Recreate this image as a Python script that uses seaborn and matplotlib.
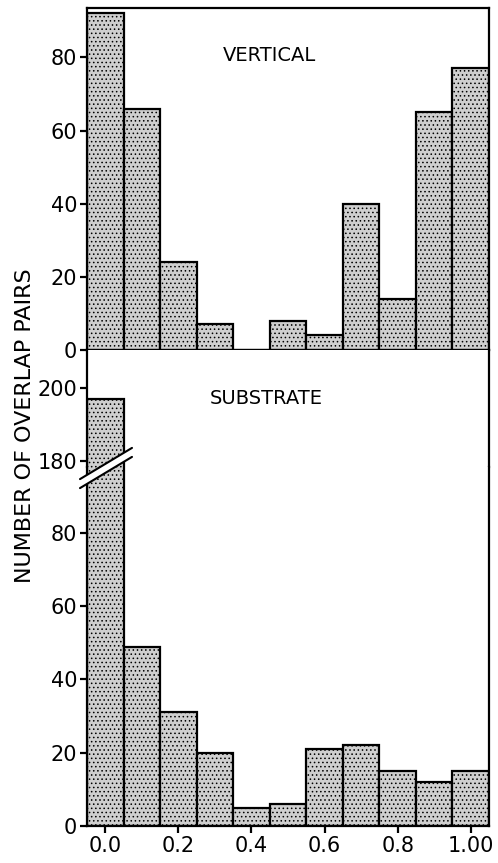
import numpy as np
import pandas as pd
import matplotlib
matplotlib.use("Agg")
import matplotlib.pyplot as plt
from matplotlib.lines import Line2D
from matplotlib.patches import Polygon
import seaborn as sns

# Datos (centros de clase de 0.0 a 1.0, paso 0.1)
overlap = [0.0, 0.1, 0.2, 0.3, 0.4, 0.5, 0.6, 0.7, 0.8, 0.9, 1.0]
vertical = [92, 66, 24, 7, 0, 8, 4, 40, 14, 65, 77]
substrate = [197, 49, 31, 20, 5, 6, 21, 22, 15, 12, 15]

x_ticks = [0.0, 0.2, 0.4, 0.6, 0.8, 1.0]
x_ticklabels = ["0.0", "0.2", "0.4", "0.6", "0.8", "1.00"]
y_ticks_low = [0, 20, 40, 60, 80]
y_ticks_high = [180, 200]

BAR_FILL = "#cfcfcf"
LW = 1.6

sns.set_style("ticks")
plt.rcParams["font.family"] = ["DejaVu Sans"]
plt.rcParams["font.size"] = 15
plt.rcParams["text.color"] = "black"
plt.rcParams["xtick.color"] = "black"
plt.rcParams["ytick.color"] = "black"
plt.rcParams["axes.edgecolor"] = "black"
plt.rcParams["hatch.linewidth"] = 0.6
plt.rcParams["hatch.color"] = "#555555"

df = pd.DataFrame({"overlap": overlap, "vertical": vertical, "substrate": substrate})
edges = [round(e, 2) for e in np.arange(-0.05, 1.06, 0.1)]

fig = plt.figure(figsize=(4.98, 8.63), dpi=100)
W, H = 498.0, 863.0
left, right = 87 / W, 489 / W
width = right - left

ax_top = fig.add_axes([left, 1 - 350 / H, width, (350 - 8) / H])
ax_hi = fig.add_axes([left, 1 - 467 / H, width, (467 - 350) / H])
ax_lo = fig.add_axes([left, 1 - 826 / H, width, (826 - 467) / H])


def draw_hist(ax, col):
    sns.histplot(data=df, x="overlap", weights=col, bins=edges, ax=ax,
                 color=BAR_FILL, edgecolor="black", linewidth=LW, alpha=1)
    for p in ax.patches:
        p.set_hatch("....")
    ax.set_xlim(-0.05, 1.05)
    ax.set_xlabel("")
    ax.set_ylabel("")
    for s in ax.spines.values():
        s.set_linewidth(LW)
    ax.tick_params(axis="both", direction="out", length=5, width=LW,
                   labelsize=15, pad=2)


# --- Panel superior: VERTICAL ---
draw_hist(ax_top, "vertical")
ax_top.set_ylim(0, 93.5)
ax_top.set_yticks(y_ticks_low)
ax_top.set_xticks([])
ax_top.text(0.45, 80.5, "VERTICAL", ha="center", va="center", fontsize=14)

# --- Panel inferior (eje cortado): SUBSTRATE ---
draw_hist(ax_hi, "substrate")
ax_hi.set_ylim(178.4, 210.4)
ax_hi.set_yticks(y_ticks_high)
ax_hi.set_xticks([])
ax_hi.spines["top"].set_visible(False)
ax_hi.spines["bottom"].set_visible(False)
ax_hi.text(0.44, 197, "SUBSTRATE", ha="center", va="center", fontsize=14)

draw_hist(ax_lo, "substrate")
ax_lo.set_ylim(0, 98)
ax_lo.set_yticks(y_ticks_low)
ax_lo.set_xticks(x_ticks)
ax_lo.set_xticklabels(x_ticklabels)
ax_lo.spines["top"].set_visible(False)

# Marca de corte del eje
cx, cy = 106 / W, 1 - 468 / H
dx, dy = 26 / W, 15.6 / H
off = 4.5 / H
band = Polygon([(cx - dx, cy - dy - off), (cx + dx, cy + dy - off),
                (cx + dx, cy + dy + off), (cx - dx, cy - dy + off)],
               closed=True, transform=fig.transFigure, facecolor="white",
               edgecolor="none", zorder=10)
fig.patches.append(band)
for sgn in (-1, 1):
    fig.lines.append(Line2D([cx - dx, cx + dx],
                            [cy - dy + sgn * off, cy + dy + sgn * off],
                            transform=fig.transFigure, color="black",
                            linewidth=1.5, zorder=11))

fig.text(25 / W, 1 - 426 / H, "NUMBER OF OVERLAP PAIRS", rotation=90,
         ha="center", va="center", fontsize=16)

fig.savefig("out.png", dpi=100)
